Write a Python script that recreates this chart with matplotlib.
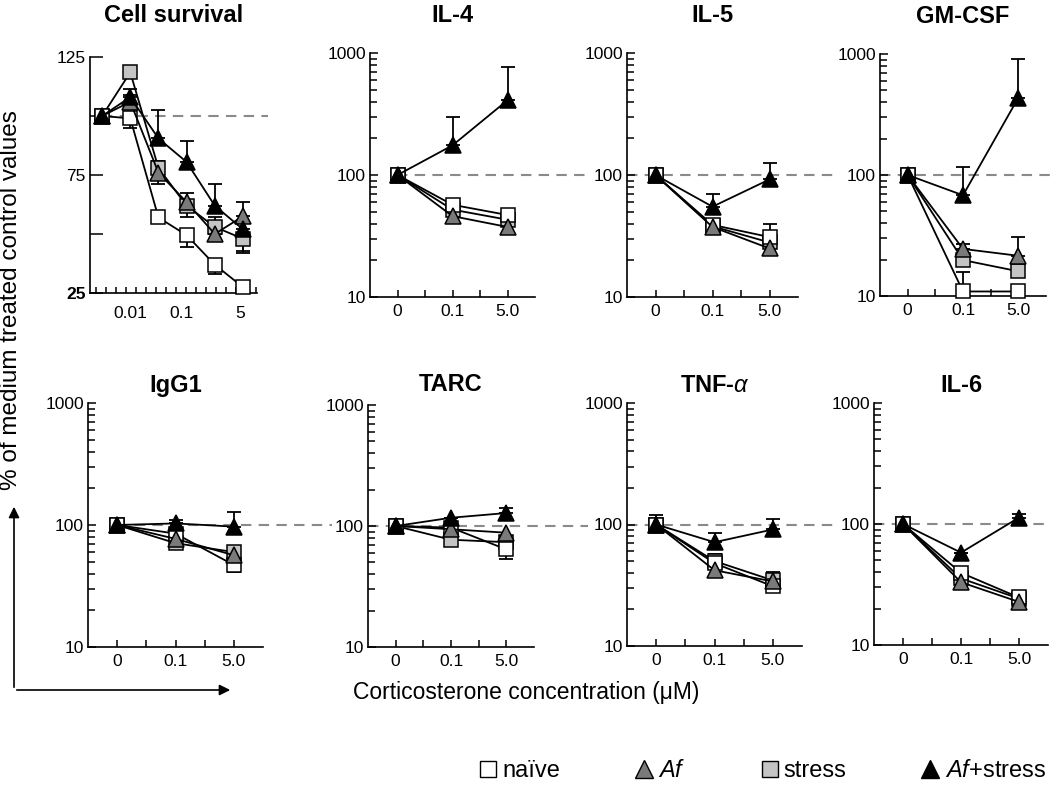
import numpy as np
import matplotlib
matplotlib.use("Agg")
import matplotlib.pyplot as plt
from matplotlib.lines import Line2D
from matplotlib.patches import FancyArrowPatch
from matplotlib.ticker import LogLocator, NullFormatter

plt.rcParams['font.family'] = ['Liberation Sans', 'DejaVu Sans']
plt.rcParams['mathtext.fontset'] = 'custom'
plt.rcParams['mathtext.rm'] = 'Liberation Sans'
plt.rcParams['mathtext.it'] = 'Liberation Sans:italic'

W, H = 1050, 786

# ---- data ----
# signed errors: >0 drawn upward, <0 drawn downward
surv_labels = ["0.01", "0.1", "5"]
surv_naive = [100, 99, 57, 49.5, 37, 27.5]
surv_naive_err = [0, -4, 0, -5, -4, 0]
surv_af = [100, 106, 76, 63.5, 50, 57.5]
surv_af_err = [0, 3, 5, 4, 0, 6]
surv_stress = [100, 118.5, 78, 62, 53, 48]
surv_stress_err = [0, 0, -7, -5, 4, -6]
surv_afs = [100, 108, 90.5, 80.5, 62, 52]
surv_afs_err = [0, 3.5, 12, 9, 9, -9]

dose_labels = ["0", "0.1", "5.0"]

il4_naive = [100, 57, 47]
il4_af = [100, 46, 37.5]
il4_stress = [100, 52, 43]
il4_afs = [100, 175, 410]
il4_afs_err = [0, 125, 360]

il5_naive = [100, 39, 31]
il5_naive_err = [0, 0, 9]
il5_af = [100, 37.5, 25]
il5_stress = [100, 38, 28]
il5_afs = [100, 55, 92]
il5_afs_err = [0, 15, 33]

gm_naive = [100, 10.9, 10.9]
gm_naive_err = [0, 5, 0]
gm_af = [100, 24.5, 21.5]
gm_af_err = [0, 2.5, 9.5]
gm_stress = [100, 19.8, 16]
gm_afs = [100, 68, 435]
gm_afs_err = [0, 49, 470]

igg_naive = [100, 85, 47]
igg_naive_err = [0, 0, -6]
igg_af = [100, 77, 56.5]
igg_stress = [100, 71, 60]
igg_stress_err = [0, 0, 6]
igg_afs = [100, 103, 97]
igg_afs_err = [0, 6, 32]

tarc_naive = [100, 97, 64]
tarc_naive_err = [0, 0, -11]
tarc_af = [100, 94, 88]
tarc_stress = [100, 77, 73.5]
tarc_afs = [100, 117, 128]
tarc_afs_err = [0, 0, 14]

tnf_naive = [100, 48, 31]
tnf_naive_err = [20, 0, 0]
tnf_af = [100, 42, 34]
tnf_stress = [100, 50, 34.7]
tnf_stress_err = [0, 7, 6]
tnf_afs = [100, 71.5, 91]
tnf_afs_err = [0, 13.5, 19]

il6_naive = [100, 39.5, 24.7]
il6_af = [100, 33, 22.7]
il6_stress = [100, 35.5, 24.2]
il6_afs = [100, 58, 113]
il6_afs_err = [0, 0, 9]

zero3 = [0, 0, 0]

styles = {
    "naive": dict(marker="s", mfc="white", ms=9.5),
    "af": dict(marker="^", mfc="#7a7a7a", ms=11),
    "stress": dict(marker="s", mfc="#c4c4c4", ms=9.5),
    "afs": dict(marker="^", mfc="black", ms=11),
}
draw_order = ["stress", "naive", "af", "afs"]

# panel: title, box(px: left, top, width, height), dash start/end px, title pad, series
panels = [
    ("IL-4", (370, 53, 165, 244), 397, 588, 22,
     {"naive": (il4_naive, zero3), "af": (il4_af, zero3),
      "stress": (il4_stress, zero3), "afs": (il4_afs, il4_afs_err)}),
    ("IL-5", (627, 53, 171, 244), 627, 837, 22,
     {"naive": (il5_naive, il5_naive_err), "af": (il5_af, zero3),
      "stress": (il5_stress, zero3), "afs": (il5_afs, il5_afs_err)}),
    ("GM-CSF", (880, 54, 166, 242), 880, 1050, 22,
     {"naive": (gm_naive, gm_naive_err), "af": (gm_af, gm_af_err),
      "stress": (gm_stress, zero3), "afs": (gm_afs, gm_afs_err)}),
    ("IgG1", (88, 403, 175, 244), 117, 332, 8,
     {"naive": (igg_naive, igg_naive_err), "af": (igg_af, zero3),
      "stress": (igg_stress, igg_stress_err), "afs": (igg_afs, igg_afs_err)}),
    ("TARC", (368, 405, 166, 242), 368, 588, 10,
     {"naive": (tarc_naive, tarc_naive_err), "af": (tarc_af, zero3),
      "stress": (tarc_stress, zero3), "afs": (tarc_afs, tarc_afs_err)}),
    ("TNF-" + r"$\alpha$", (627, 403, 175, 243), 627, 835, 8,
     {"naive": (tnf_naive, tnf_naive_err), "af": (tnf_af, zero3),
      "stress": (tnf_stress, tnf_stress_err), "afs": (tnf_afs, tnf_afs_err)}),
    ("IL-6", (874, 403, 174, 242), 874, 1050, 8,
     {"naive": (il6_naive, zero3), "af": (il6_af, zero3),
      "stress": (il6_stress, zero3), "afs": (il6_afs, il6_afs_err)}),
]


def px_rect(left, top, width, height):
    return [left / W, 1 - (top + height) / H, width / W, height / H]


def draw_series(ax, x, vals, err, key):
    err = np.array(err, dtype=float)
    lo = np.where(err < 0, -err, 0)
    hi = np.where(err > 0, err, 0)
    if np.any(err != 0):
        ax.errorbar(x, vals, yerr=[lo, hi], fmt="none", ecolor="black",
                    elinewidth=1.3, capsize=5, capthick=1.3, zorder=2)
    ax.plot(x, vals, color="black", lw=1.3, mec="black", mew=1.1,
            zorder=3, clip_on=False, **styles[key])


def base_style(ax):
    for s in ["top", "right"]:
        ax.spines[s].set_visible(False)
    for s in ["left", "bottom"]:
        ax.spines[s].set_linewidth(1.2)
    ax.tick_params(axis="both", which="both", direction="in", width=1.1,
                   labelsize=12.5, colors="black")
    ax.tick_params(axis="y", which="major", length=6, pad=3)
    ax.tick_params(axis="y", which="minor", length=5)
    ax.tick_params(axis="x", which="both", length=5, pad=5)


fig = plt.figure(figsize=(W / 100, H / 100), dpi=100)

# ---- cell survival ----
box = (90, 57, 167, 236)
ax = fig.add_axes(px_rect(*box))
base_style(ax)
xs = np.arange(len(surv_naive))
ax.set_xlim(-0.43, 5.5)
ax.set_ylim(25, 125)
ax.set_yticks([25, 50, 75, 100, 125])
ax.set_yticklabels(["25", "", "75", "", "125"])
ax.get_yticklabels()[0].set_fontweight("bold")
ax.set_xticks([1, 2.82, 4.9])
ax.set_xticklabels(surv_labels)
ax.tick_params(axis="x", which="major", length=0, pad=9)
ax.set_xticks(np.arange(-0.2, 5.5, 0.355), minor=True)
ax.tick_params(axis="x", which="minor", length=4)
ax.tick_params(axis="y", which="major", length=9)
x0 = (102 - box[0]) / box[2]
x1 = (268 - box[0]) / box[2]
ax.axhline(100, xmin=x0, xmax=x1, color="#8a8a8a", lw=1.5,
           dashes=(5, 3.5), clip_on=False, zorder=1)
surv = {"naive": (surv_naive, surv_naive_err), "af": (surv_af, surv_af_err),
        "stress": (surv_stress, surv_stress_err), "afs": (surv_afs, surv_afs_err)}
for k in draw_order:
    draw_series(ax, xs, surv[k][0], surv[k][1], k)
ax.set_title("Cell survival", fontsize=17, fontweight="bold", pad=25)

# ---- cytokine panels ----
for title, box, dstart, dend, tpad, series in panels:
    ax = fig.add_axes(px_rect(*box))
    base_style(ax)
    ax.set_yscale("log")
    ax.set_ylim(10, 1000)
    ax.set_yticks([10, 100, 1000])
    ax.set_yticklabels(["10", "100", "1000"])
    ax.yaxis.set_minor_locator(LogLocator(base=10, subs=np.arange(2, 10)))
    ax.yaxis.set_minor_formatter(NullFormatter())
    ax.set_xlim(-0.5, 2.5)
    ax.set_xticks([0, 1, 2])
    ax.set_xticklabels(dose_labels)
    ax.set_xticks([0.5, 1.5], minor=True)
    ax.axhline(100, xmin=(dstart - box[0]) / box[2], xmax=(dend - box[0]) / box[2],
               color="#8a8a8a", lw=1.5, dashes=(5, 3.5), clip_on=False, zorder=1)
    x = np.arange(3)
    for k in draw_order:
        draw_series(ax, x, series[k][0], series[k][1], k)
    ax.set_title(title, fontsize=17, fontweight="bold", pad=tpad)

# ---- axis labels and arrows ----
fig.text(11 / W, 1 - 300 / H, "% of medium treated control values", rotation=90,
         ha="center", va="center", fontsize=17.5)
fig.text(526 / W, 1 - 692 / H, "Corticosterone concentration (\u03bcM)",
         ha="center", va="center", fontsize=16.5)
fig.add_artist(FancyArrowPatch((14 / W, 1 - 690 / H), (14 / W, 1 - 504 / H),
                               transform=fig.transFigure, arrowstyle="-|>",
                               mutation_scale=16, color="black", lw=1.2))
fig.add_artist(FancyArrowPatch((14 / W, 1 - 690 / H), (233 / W, 1 - 690 / H),
                               transform=fig.transFigure, arrowstyle="-|>",
                               mutation_scale=16, color="black", lw=1.2))

# ---- legend ----
leg_labels = ["na\u00efve", r"$\mathit{Af}$", "stress", r"$\mathit{Af}$+stress"]
handles = []
for k, lab in zip(["naive", "af", "stress", "afs"], leg_labels):
    st = dict(styles[k])
    st["ms"] = st["ms"] + 1.5
    handles.append(Line2D([], [], ls="none", mec="black", mew=1.0, label=lab, **st))
fig.legend(handles=handles, loc="center right", bbox_to_anchor=(1046 / W, 1 - 771 / H),
           ncol=4, frameon=False, fontsize=17, handlelength=0.8, handletextpad=0.2,
           columnspacing=3.15, borderaxespad=0, borderpad=0)

fig.savefig("out.png", dpi=100)
